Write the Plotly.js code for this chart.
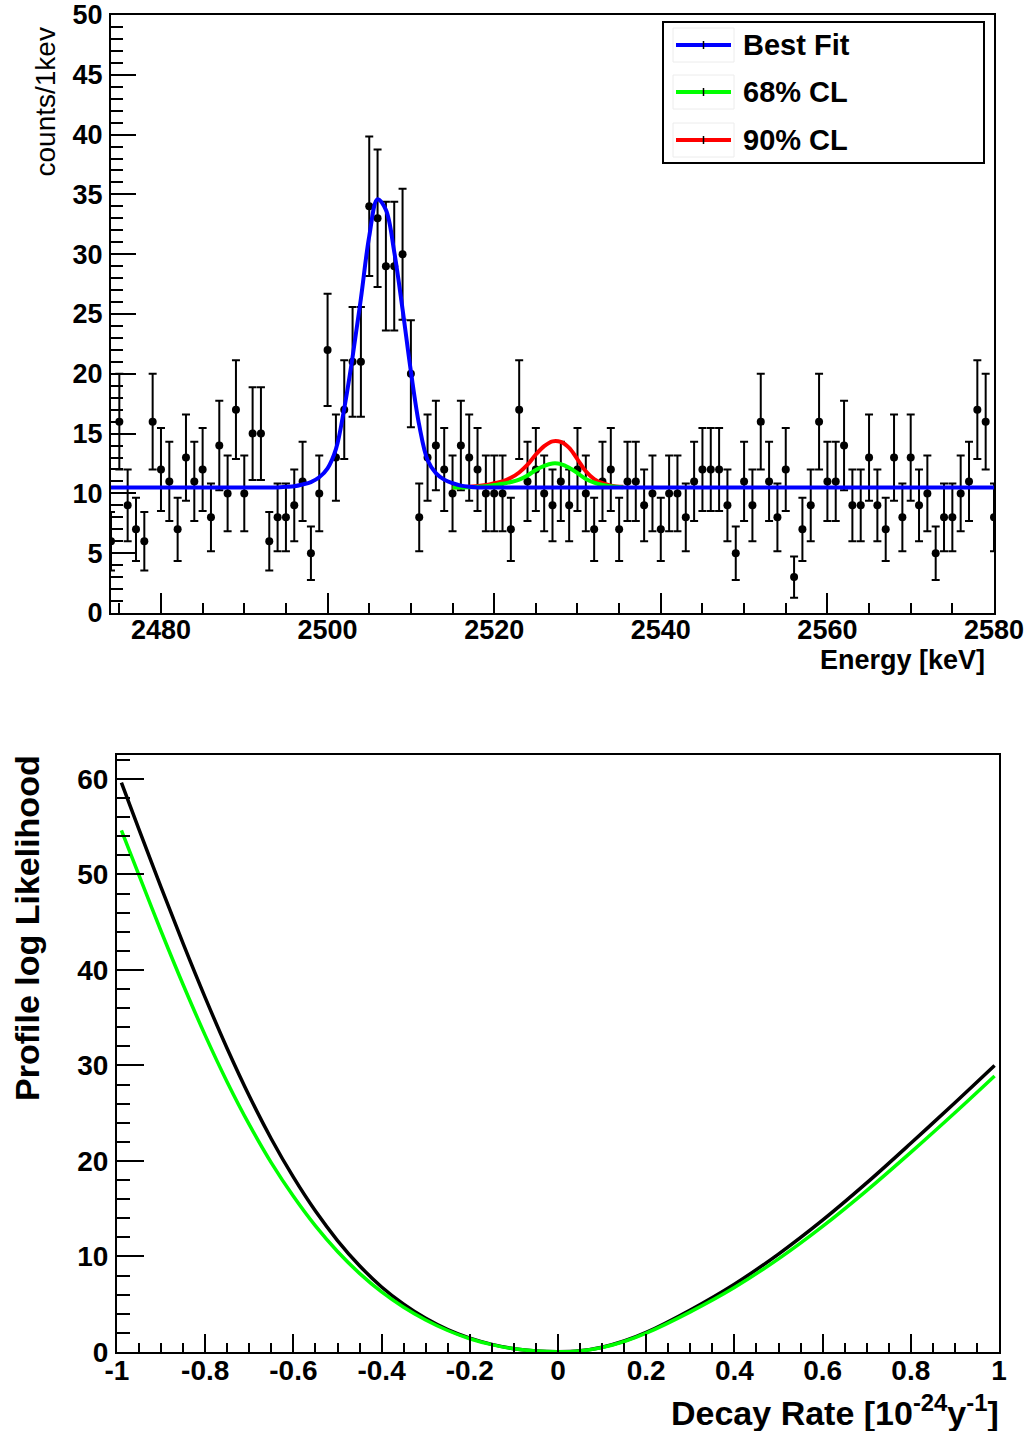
<!DOCTYPE html>
<html>
<head>
<meta charset="utf-8">
<script src="https://cdn.plot.ly/plotly-3.0.1.min.js"></script>
<style>
html,body{margin:0;padding:0;background:#ffffff;}
#chart{width:1025px;height:1431px;}
</style>
</head>
<body>
<div id="chart"></div>
<script>
// ---------- Top panel: measured spectrum (1 keV bins) ----------
const energy = [2474,2475,2476,2477,2478,2479,2480,2481,2482,2483,2484,2485,2486,2487,2488,2489,2490,2491,2492,2493,2494,2495,2496,2497,2498,2499,
  2500,2501,2502,2503,2504,2505,2506,2507,2508,2509,2510,2511,2512,2513,2514,2515,2516,2517,2518,2519,
  2520,2521,2522,2523,2524,2525,2526,2527,2528,2529,2530,2531,2532,2533,2534,2535,2536,2537,2538,2539,
  2540,2541,2542,2543,2544,2545,2546,2547,2548,2549,2550,2551,2552,2553,2554,2555,2556,2557,2558,2559,
  2560,2561,2562,2563,2564,2565,2566,2567,2568,2569,2570,2571,2572,2573,2574,2575,2576,2577,2578,2579,2580];
const counts = [6,16,9,7,6,16,12,11,7,13,11,12,8,14,10,17,10,15,15,6,8,8,9,11,5,10,
  22,13,17,21,21,34,33,29,29,30,20,8,13,14,12,10,14,13,12,10,
  10,10,7,17,11,12,10,9,11,9,12,10,7,11,12,7,11,11,9,10,
  7,10,10,8,11,12,12,12,9,5,11,9,16,11,8,12,3,7,9,16,
  11,11,14,9,9,13,9,7,13,8,13,9,10,5,8,8,10,11,17,16,8];

// Best fit curve
const fitEnergy = [2474,2480,2490,2494,2495,2496,2497,2498,2499,2500,2501,2502,2503,2504,2505,2506,2507,2508,2509,2510,2511,2512,2513,2514,2515,2516,2517,2518,2520,2530,2540,2560,2580];
const fitBest   = [10.5,10.5,10.5,10.5,10.55,10.6,10.75,10.95,11.35,12.1,13.7,17.1,21.4,26.3,31.5,34.6,33.7,30.2,25.4,20.2,15.7,12.8,11.7,11.15,10.85,10.65,10.55,10.5,10.5,10.5,10.5,10.5,10.5];

// Confidence-limit curves
const clEnergy = [2515,2517,2519,2520,2521,2522,2523,2524,2525,2526,2527,2528,2529,2530,2531,2532,2533,2534,2535.5];
const cl68     = [10.5,10.52,10.6,10.7,10.8,10.95,11.15,11.5,11.95,12.3,12.5,12.45,12.15,11.7,11.2,10.9,10.7,10.6,10.52];
const cl90     = [10.5,10.55,10.7,10.85,11.0,11.3,11.75,12.4,13.25,13.95,14.35,14.3,13.8,12.85,11.85,11.2,10.85,10.65,10.55];

const legendNames  = ['Best Fit', '68% CL', '90% CL'];
const legendColors = ['#0000ff', '#00ff00', '#ff0000'];

const topXTicks = [2480,2500,2520,2540,2560,2580];
const topXLabels = ['2480','2500','2520','2540','2560','2580'];
const topYTicks = [0,5,10,15,20,25,30,35,40,45,50];
const topYLabels = ['0','5','10','15','20','25','30','35','40','45','50'];

// ---------- Bottom panel: profile log likelihood ----------
const decayRate = [-0.99,-0.95,-0.9,-0.85,-0.8,-0.75,-0.7,-0.65,-0.6,-0.55,-0.5,-0.45,-0.4,-0.35,-0.3,-0.25,-0.2,-0.15,-0.1,-0.05,0,0.05,0.1,0.15,0.2,0.3,0.4,0.5,0.6,0.7,0.8,0.9,0.99];
const likeBlack = [59.6,54.7,48.65,42.75,37.1,31.75,26.8,22.3,18.3,14.75,11.67,9.03,6.81,5.01,3.53,2.35,1.45,0.8,0.35,0.1,0.02,0.12,0.5,1.15,2.05,4.4,7.1,10.25,13.8,17.7,21.85,26.1,30.0];
const likeGreen = [54.6,49.9,44.05,38.45,33.15,28.25,23.8,19.8,16.3,13.2,10.52,8.23,6.29,4.69,3.35,2.25,1.39,0.77,0.34,0.1,0.02,0.11,0.47,1.1,1.97,4.2,6.75,9.75,13.15,16.9,20.9,25.05,28.9];

const botXTicks = [-1,-0.8,-0.6,-0.4,-0.2,0,0.2,0.4,0.6,0.8,1];
const botXLabels = ['-1','-0.8','-0.6','-0.4','-0.2','0','0.2','0.4','0.6','0.8','1'];
const botYTicks = [0,10,20,30,40,50,60];
const botYLabels = ['0','10','20','30','40','50','60'];

const FONT = 'Liberation Sans, Arial, Helvetica, sans-serif';
const W = 1025, H = 1431;
const px = v => v / W;
const py = v => 1 - v / H;

const traces = [
  {
    x: energy, y: counts, type: 'scatter', mode: 'markers',
    xaxis: 'x', yaxis: 'y', showlegend: false,
    marker: {color: '#000000', size: 8, symbol: 'circle'},
    error_y: {type: 'sqrt', visible: true, color: '#000000', thickness: 2, width: 4}
  },
  {
    x: clEnergy, y: cl90, type: 'scatter', mode: 'lines', name: legendNames[2],
    xaxis: 'x', yaxis: 'y', showlegend: false,
    line: {color: legendColors[2], width: 4, shape: 'spline'}
  },
  {
    x: clEnergy, y: cl68, type: 'scatter', mode: 'lines', name: legendNames[1],
    xaxis: 'x', yaxis: 'y', showlegend: false,
    line: {color: legendColors[1], width: 4, shape: 'spline'}
  },
  {
    x: fitEnergy, y: fitBest, type: 'scatter', mode: 'lines', name: legendNames[0],
    xaxis: 'x', yaxis: 'y', showlegend: false,
    line: {color: legendColors[0], width: 4, shape: 'spline'}
  },
  {
    x: decayRate, y: likeBlack, type: 'scatter', mode: 'lines',
    xaxis: 'x2', yaxis: 'y2', showlegend: false,
    line: {color: '#000000', width: 3.5, shape: 'spline'}
  },
  {
    x: decayRate, y: likeGreen, type: 'scatter', mode: 'lines',
    xaxis: 'x2', yaxis: 'y2', showlegend: false,
    line: {color: '#00ff00', width: 3.5, shape: 'spline'}
  }
];

const tickFontTop = {family: FONT, size: 27, color: '#000000', weight: 'bold'};
const tickFontBot = {family: FONT, size: 28, color: '#000000', weight: 'bold'};

function axisBase() {
  return {
    showline: true, linecolor: '#000000', linewidth: 2, mirror: true,
    showgrid: false, zeroline: false, ticks: 'inside', tickcolor: '#000000',
    tickwidth: 2, automargin: false, fixedrange: true, tickmode: 'array'
  };
}

// Legend box drawn in the ROOT (TLegend) style
const legBox = {x0: 663, x1: 984, y0: 22, y1: 163};
const legRows = [45, 92, 140];
const shapes = [
  {type: 'rect', xref: 'paper', yref: 'paper', x0: px(legBox.x0), x1: px(legBox.x1), y0: py(legBox.y1), y1: py(legBox.y0),
   line: {color: '#000000', width: 2}, fillcolor: '#ffffff', layer: 'above'}
];
const annotations = [];
legRows.forEach((yc, i) => {
  shapes.push({type: 'rect', xref: 'paper', yref: 'paper', x0: px(673), x1: px(734), y0: py(yc + 17), y1: py(yc - 17),
    line: {color: '#ececec', width: 1}, layer: 'above'});
  shapes.push({type: 'line', xref: 'paper', yref: 'paper', x0: px(676), x1: px(731), y0: py(yc), y1: py(yc),
    line: {color: legendColors[i], width: 4}, layer: 'above'});
  shapes.push({type: 'line', xref: 'paper', yref: 'paper', x0: px(703.5), x1: px(703.5), y0: py(yc + 4), y1: py(yc - 4),
    line: {color: '#000000', width: 1.5}, layer: 'above'});
  annotations.push({text: legendNames[i], xref: 'paper', yref: 'paper', x: px(741), y: py(yc),
    xanchor: 'left', yanchor: 'middle', showarrow: false,
    font: {family: FONT, size: 29, color: '#000000', weight: 'bold'}});
});

annotations.push(
  {text: 'counts/1kev', xref: 'paper', yref: 'paper', x: px(45), y: py(26),
   xanchor: 'center', yanchor: 'top', textangle: -90, showarrow: false,
   font: {family: FONT, size: 28, color: '#000000'}},
  {text: 'Energy [keV]', xref: 'paper', yref: 'paper', x: px(987), y: py(660),
   xanchor: 'right', yanchor: 'middle', showarrow: false,
   font: {family: FONT, size: 27, color: '#000000', weight: 'bold'}},
  {text: 'Profile log Likelihood', xref: 'paper', yref: 'paper', x: px(27), y: py(753),
   xanchor: 'center', yanchor: 'top', textangle: -90, showarrow: false,
   font: {family: FONT, size: 34, color: '#000000', weight: 'bold'}},
  {text: 'Decay Rate [10<sup>-24</sup>y<sup>-1</sup>]', xref: 'paper', yref: 'paper', x: px(1001), y: py(1410),
   xanchor: 'right', yanchor: 'middle', showarrow: false,
   font: {family: FONT, size: 34, color: '#000000', weight: 'bold'}}
);

const layout = {
  width: W, height: H,
  margin: {l: 0, r: 0, t: 0, b: 0, pad: 0},
  paper_bgcolor: '#ffffff', plot_bgcolor: '#ffffff',
  showlegend: false,
  xaxis: Object.assign(axisBase(), {
    domain: [px(111), px(994)], anchor: 'y', range: [2474, 2580],
    tickvals: topXTicks, ticktext: topXLabels, ticklen: 20, tickfont: tickFontTop,
    ticklabelstandoff: -8,
    minor: {ticks: 'inside', tickmode: 'linear', tick0: 2475, dtick: 5, ticklen: 10, tickwidth: 2, tickcolor: '#000000', showgrid: false}
  }),
  yaxis: Object.assign(axisBase(), {
    domain: [py(613), py(15)], anchor: 'x', range: [0, 50],
    tickvals: topYTicks, ticktext: topYLabels, ticklen: 25, tickfont: tickFontTop,
    ticklabelstandoff: 1,
    minor: {ticks: 'inside', tickmode: 'linear', tick0: 0, dtick: 1, ticklen: 12, tickwidth: 2, tickcolor: '#000000', showgrid: false}
  }),
  xaxis2: Object.assign(axisBase(), {
    domain: [px(117), px(999)], anchor: 'y2', range: [-1, 1],
    tickvals: botXTicks, ticktext: botXLabels, ticklen: 18, tickfont: tickFontBot,
    ticklabelstandoff: -8,
    minor: {ticks: 'inside', tickmode: 'linear', tick0: -1, dtick: 0.05, ticklen: 9, tickwidth: 2, tickcolor: '#000000', showgrid: false}
  }),
  yaxis2: Object.assign(axisBase(), {
    domain: [py(1352), py(755)], anchor: 'x2', range: [0, 62.5],
    tickvals: botYTicks, ticktext: botYLabels, ticklen: 27, tickfont: tickFontBot,
    ticklabelstandoff: 1,
    minor: {ticks: 'inside', tickmode: 'linear', tick0: 0, dtick: 2, ticklen: 13, tickwidth: 2, tickcolor: '#000000', showgrid: false}
  }),
  shapes: shapes,
  annotations: annotations
};

Plotly.newPlot('chart', traces, layout, {displayModeBar: false, staticPlot: true});
</script>
</body>
</html>
